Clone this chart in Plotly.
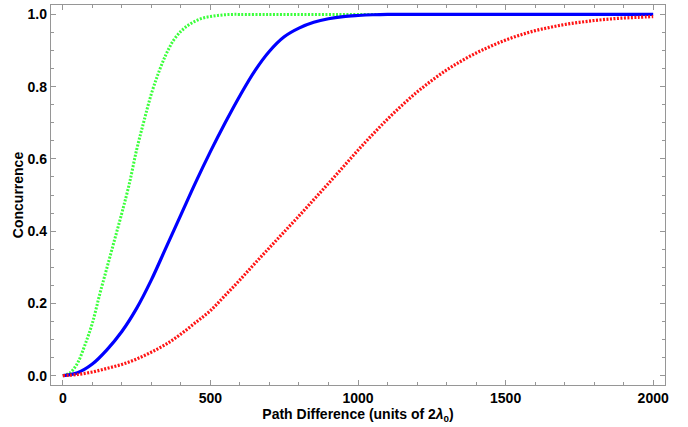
import plotly.graph_objects as go

# ---- data ----
green_x = [0, 25, 50, 75, 100, 125, 150, 175, 200, 225, 250, 275, 300, 325, 350, 375,
           400, 425, 450, 475, 500, 525, 550, 575, 600, 700, 800, 900, 1000, 1200, 1400,
           1600, 1800, 2000]
green_y = [0.0, 0.008, 0.035, 0.085, 0.145, 0.225, 0.30, 0.375, 0.45, 0.53, 0.625, 0.705,
           0.78, 0.84, 0.89, 0.928, 0.953, 0.97, 0.982, 0.99, 0.994, 0.997, 0.999, 1.0,
           1.0, 1.0, 1.0, 1.0, 1.0, 1.0, 1.0, 1.0, 1.0, 1.0]

blue_x = [0, 50, 100, 150, 200, 250, 300, 350, 400, 450, 500, 550, 600, 650, 700, 750,
          800, 850, 900, 950, 1000, 1050, 1100, 1200, 1400, 1600, 1800, 2000]
blue_y = [0.0, 0.008, 0.032, 0.072, 0.122, 0.186, 0.265, 0.355, 0.445, 0.535, 0.62, 0.70,
          0.775, 0.843, 0.898, 0.938, 0.962, 0.978, 0.988, 0.994, 0.997, 0.999, 1.0, 1.0,
          1.0, 1.0, 1.0, 1.0]

red_x = [0, 50, 100, 150, 200, 250, 300, 350, 400, 450, 500, 550, 600, 650, 700, 750,
         800, 850, 900, 950, 1000, 1050, 1100, 1150, 1200, 1250, 1300, 1350, 1400, 1450,
         1500, 1550, 1600, 1650, 1700, 1750, 1800, 1850, 1900, 1950, 2000]
red_y = [0.0, 0.003, 0.01, 0.02, 0.031, 0.046, 0.065, 0.087, 0.115, 0.147, 0.18, 0.222,
         0.265, 0.31, 0.354, 0.398, 0.442, 0.487, 0.532, 0.578, 0.624, 0.668, 0.71, 0.749,
         0.785, 0.817, 0.846, 0.871, 0.893, 0.912, 0.929, 0.943, 0.955, 0.964, 0.972,
         0.978, 0.983, 0.987, 0.99, 0.992, 0.994]

x_title = "Path Difference (units of 2<i>λ</i><sub>0</sub>)"
y_title = "Concurrence"

FONT = "Liberation Sans, Arial, sans-serif"

fig = go.Figure()
fig.add_trace(go.Scatter(x=green_x, y=green_y, mode="lines", line_shape="spline",
                         line=dict(color="rgb(60,255,60)", width=3, dash="2px,1.5px")))
fig.add_trace(go.Scatter(x=blue_x, y=blue_y, mode="lines", line_shape="spline",
                         line=dict(color="rgb(0,0,255)", width=3.2)))
fig.add_trace(go.Scatter(x=red_x, y=red_y, mode="lines", line_shape="spline",
                         line=dict(color="rgb(255,20,20)", width=3.2, dash="2px,1.5px")))

axis_common = dict(
    showline=True, linecolor="rgb(150,150,150)", linewidth=1.3, mirror="allticks",
    ticks="inside", ticklen=5, tickcolor="rgb(150,150,150)", tickwidth=1,
    showgrid=False, zeroline=False,
    tickfont=dict(family=FONT, size=14, color="black", weight="bold"),
)

fig.update_xaxes(range=[-40, 2040], tickvals=[0, 500, 1000, 1500, 2000],
                 minor=dict(ticks="inside", ticklen=3, dtick=100, tick0=0,
                            tickcolor="rgb(150,150,150)", showgrid=False),
                 title=dict(text=x_title, standoff=3,
                            font=dict(family=FONT, size=14, color="black", weight="bold")),
                 **axis_common)
fig.update_yaxes(range=[-0.026, 1.026], tickvals=[0, 0.2, 0.4, 0.6, 0.8, 1.0],
                 tickformat=".1f",
                 minor=dict(ticks="inside", ticklen=3, dtick=0.05, tick0=0,
                            tickcolor="rgb(150,150,150)", showgrid=False),
                 title=dict(text=y_title, standoff=0,
                            font=dict(family=FONT, size=14, color="black", weight="bold")),
                 **axis_common)

fig.update_layout(
    width=688, height=427,
    margin=dict(l=51, r=23, t=5, b=42),
    plot_bgcolor="white", paper_bgcolor="white",
    showlegend=False,
)

fig.write_html("out.html",
               config={"displayModeBar": False},
               post_script="document.body.style.margin='0';"
                           "document.documentElement.style.overflow='hidden';")
